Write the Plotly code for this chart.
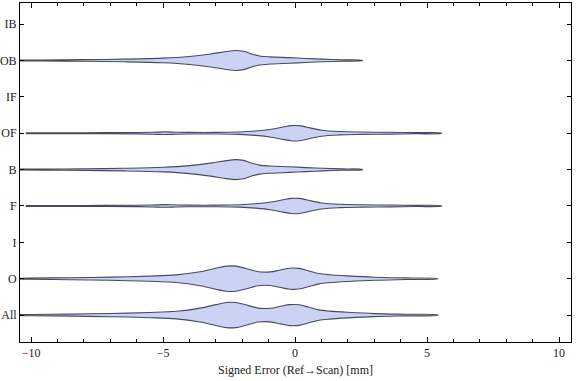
import plotly.graph_objects as go

# Categories (bottom to top)
categories = ["All", "O", "I", "F", "B", "OF", "IF", "OB", "IB"]

# Density profiles (x in mm, density in relative units)
prof_back_x = [-11.2, -9.5, -8.0, -6.5, -5.0, -4.0, -3.2, -2.6, -2.25, -1.95, -1.65, -1.35, -0.95, -0.2, 0.4, 1.06, 1.8, 2.55]
prof_back_d = [0.4, 0.5, 0.8, 1.3, 2.3, 4.0, 6.5, 9.0, 10.0, 9.2, 6.5, 4.5, 3.6, 2.8, 2.0, 1.3, 0.7, 0.2]

prof_front_x = [-10.2, -8.0, -6.0, -5.4, -4.9, -4.5, -4.0, -3.0, -2.1, -1.5, -0.9, -0.45, -0.15, 0.15, 0.45, 1.0, 1.7, 2.5, 3.6, 4.6, 5.55]
prof_front_d = [0.4, 0.5, 0.7, 1.0, 1.3, 1.0, 0.8, 0.8, 1.2, 2.2, 4.0, 6.2, 7.6, 7.6, 6.0, 3.0, 1.7, 1.2, 0.9, 0.6, 0.2]

prof_all_x = [-11.2, -10.0, -8.5, -7.0, -5.5, -4.5, -3.6, -3.0, -2.6, -2.25, -1.9, -1.4, -0.95, -0.55, -0.2, 0.15, 0.5, 0.9, 1.3, 2.0, 3.0, 4.2, 5.4]
prof_all_d = [0.4, 0.6, 1.0, 1.6, 2.6, 3.8, 7.0, 10.5, 12.6, 12.6, 10.5, 7.0, 6.8, 8.8, 10.5, 10.3, 8.0, 5.2, 4.0, 2.8, 1.5, 0.8, 0.2]

series = {
    "All": (prof_all_x, prof_all_d),
    "O": (prof_all_x, prof_all_d),
    "F": (prof_front_x, prof_front_d),
    "B": (prof_back_x, prof_back_d),
    "OF": (prof_front_x, prof_front_d),
    "OB": (prof_back_x, prof_back_d),
}

x_ticks = [-10, -5, 0, 5, 10]
x_title = "Signed Error (Ref\u2192Scan) [mm]"

SCALE = 1 / 36.4  # density units -> category units
FILL = "#ccd2f4"
EDGE = "#474a5e"
FONT = "Liberation Serif"

fig = go.Figure()
for name, (xs, ds) in series.items():
    pos = categories.index(name)
    up = [pos + d * SCALE for d in ds]
    dn = [pos - d * SCALE for d in ds]
    fig.add_trace(go.Scatter(
        x=list(xs) + list(xs)[::-1],
        y=up + dn[::-1],
        mode="lines", fill="toself", fillcolor=FILL,
        line=dict(color=EDGE, width=1.1, shape="spline", smoothing=0.9),
        showlegend=False, hoverinfo="skip",
    ))

fig.update_layout(
    width=576, height=381,
    margin=dict(l=20, r=5, t=3, b=39),
    paper_bgcolor="white", plot_bgcolor="white",
    font=dict(family=FONT, size=12, color="#222"),
    showlegend=False,
)
fig.update_xaxes(
    range=[-10.42, 10.45], tickvals=x_ticks,
    ticktext=["\u221210", "\u22125", "0", "5", "10"],
    ticks="inside", ticklen=5, tickcolor="black", tickwidth=1,
    minor=dict(dtick=1, ticks="inside", ticklen=3, tickcolor="black", tickwidth=1),
    showline=True, linecolor="black", linewidth=1, mirror="allticks",
    showgrid=False, zeroline=False,
    title=dict(text=x_title, font=dict(family=FONT, size=12), standoff=6),
    tickfont=dict(family=FONT, size=12),
    automargin=False,
)
fig.update_yaxes(
    range=[-0.74, 8.58], tickvals=list(range(len(categories))), ticktext=categories,
    ticks="inside", ticklen=4, tickcolor="black", tickwidth=1,
    showline=True, linecolor="black", linewidth=1, mirror="allticks",
    showgrid=False, zeroline=False,
    tickfont=dict(family=FONT, size=12),
    automargin=False,
)

fig.write_html("out.html", config={"displayModeBar": False},
               post_script="document.body.style.margin='0px';")
